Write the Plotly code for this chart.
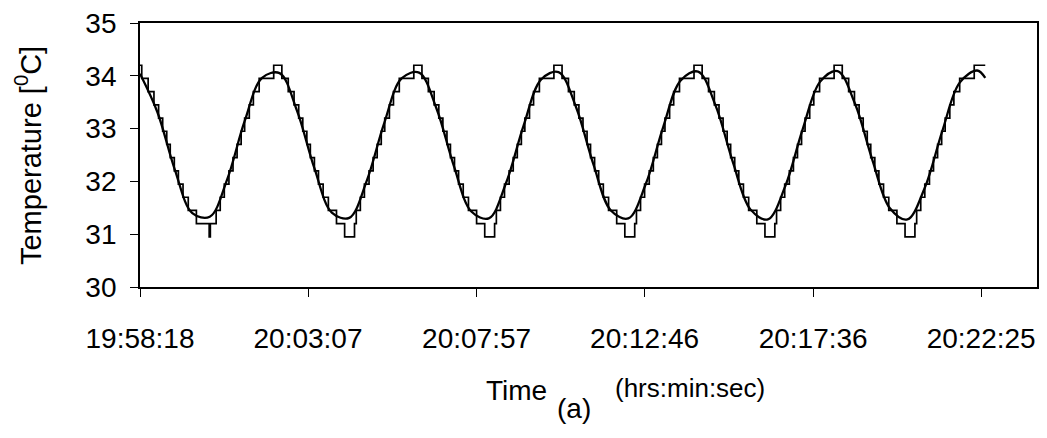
import plotly.graph_objects as go

# ---- data (seconds from 19:58:18) ----
tick_secs = [0, 289, 579, 868, 1158, 1447]
tick_labels = ["19:58:18", "20:03:07", "20:07:57", "20:12:46", "20:17:36", "20:22:25"]
y_ticks = [30, 31, 32, 33, 34, 35]

# smooth (fitted) temperature curve
fit_t = [0, 30, 60, 90, 120, 150, 180, 210, 240, 270, 300, 330, 360, 390, 420, 450,
         480, 510, 540, 570, 600, 630, 660, 690, 720, 750, 780, 810, 840, 870, 900,
         930, 960, 990, 1020, 1050, 1080, 1110, 1140, 1170, 1200, 1230, 1260, 1290,
         1320, 1350, 1380, 1410, 1440, 1454]
fit_v = [34.04, 33.31, 32.22, 31.40, 31.33, 32.04, 33.14, 33.96, 34.05, 33.34, 32.25,
         31.41, 31.31, 32.01, 33.10, 33.95, 34.06, 33.38, 32.29, 31.43, 31.30, 31.98,
         33.06, 33.93, 34.07, 33.41, 32.32, 31.45, 31.30, 31.95, 33.03, 33.91, 34.08,
         33.44, 32.36, 31.47, 31.28, 31.91, 32.99, 33.89, 34.09, 33.47, 32.40, 31.49,
         31.28, 31.88, 32.95, 33.87, 34.10, 33.96]

# measured (quantised) temperature: times where the reading changes, and the reading
meas_t = [0, 3, 14, 24, 32, 39, 46, 52, 59, 66, 74, 83, 97, 119, 121, 131, 138, 145, 153, 160, 167, 174, 180, 188, 195, 205,
          230, 244, 255, 265, 273, 280, 287, 293, 300, 307, 315, 324, 338, 352, 369, 372, 379, 386, 394, 401, 408, 415, 421, 429, 436, 446,
          471, 485, 496, 506, 514, 521, 528, 534, 541, 548, 556, 565, 579, 593, 610, 613, 620, 627, 635, 642, 649, 656, 662, 670, 677, 687,
          712, 726, 737, 747, 755, 762, 769, 775, 782, 789, 797, 806, 820, 834, 851, 854, 861, 868, 876, 883, 890, 897, 903, 911, 918, 928,
          953, 967, 978, 988, 996, 1003, 1010, 1016, 1023, 1030, 1038, 1047, 1061, 1075, 1092, 1095, 1102, 1109, 1117, 1124, 1131, 1138, 1144, 1152, 1159, 1169,
          1194, 1208, 1219, 1229, 1237, 1244, 1251, 1257, 1264, 1271, 1279, 1288, 1302, 1316, 1333, 1336, 1343, 1350, 1358, 1365, 1372, 1379, 1385, 1393, 1400, 1410,
          1435, 1454]
meas_v = [34.2, 33.95, 33.7, 33.45, 33.2, 32.95, 32.7, 32.45, 32.2, 31.95, 31.7, 31.45, 31.2, 30.95, 31.2, 31.45, 31.7, 31.95, 32.2, 32.45, 32.7, 32.95, 33.2, 33.45, 33.7, 33.95,
          34.2, 33.95, 33.7, 33.45, 33.2, 32.95, 32.7, 32.45, 32.2, 31.95, 31.7, 31.45, 31.2, 30.95, 31.2, 31.45, 31.7, 31.95, 32.2, 32.45, 32.7, 32.95, 33.2, 33.45, 33.7, 33.95,
          34.2, 33.95, 33.7, 33.45, 33.2, 32.95, 32.7, 32.45, 32.2, 31.95, 31.7, 31.45, 31.2, 30.95, 31.2, 31.45, 31.7, 31.95, 32.2, 32.45, 32.7, 32.95, 33.2, 33.45, 33.7, 33.95,
          34.2, 33.95, 33.7, 33.45, 33.2, 32.95, 32.7, 32.45, 32.2, 31.95, 31.7, 31.45, 31.2, 30.95, 31.2, 31.45, 31.7, 31.95, 32.2, 32.45, 32.7, 32.95, 33.2, 33.45, 33.7, 33.95,
          34.2, 33.95, 33.7, 33.45, 33.2, 32.95, 32.7, 32.45, 32.2, 31.95, 31.7, 31.45, 31.2, 30.95, 31.2, 31.45, 31.7, 31.95, 32.2, 32.45, 32.7, 32.95, 33.2, 33.45, 33.7, 33.95,
          34.2, 33.95, 33.7, 33.45, 33.2, 32.95, 32.7, 32.45, 32.2, 31.95, 31.7, 31.45, 31.2, 30.95, 31.2, 31.45, 31.7, 31.95, 32.2, 32.45, 32.7, 32.95, 33.2, 33.45, 33.7, 33.95,
          34.2, 34.2]

font_main = "Liberation Sans, Arial, sans-serif"

fig = go.Figure()
fig.add_trace(go.Scatter(x=meas_t, y=meas_v, mode="lines",
                         line=dict(color="black", width=1.7, shape="hv"),
                         showlegend=False, hoverinfo="skip"))
fig.add_trace(go.Scatter(x=fit_t, y=fit_v, mode="lines",
                         line=dict(color="black", width=2.3, shape="spline"),
                         showlegend=False, hoverinfo="skip"))

fig.update_layout(
    width=1047, height=438,
    margin=dict(l=140, r=8, t=17, b=151),
    paper_bgcolor="white", plot_bgcolor="white",
    font=dict(family=font_main, size=27, color="black"),
    xaxis=dict(range=[0, 1543], tickvals=tick_secs, ticktext=tick_labels,
               showgrid=False, zeroline=False, showline=True, mirror=True,
               linecolor="black", linewidth=1.8, ticks="outside", ticklen=8,
               tickwidth=1.4, tickcolor="black", ticklabelstandoff=17,
               tickfont=dict(size=28)),
    yaxis=dict(range=[30, 35], tickvals=y_ticks,
               showgrid=False, zeroline=False, showline=True, mirror=True,
               linecolor="black", linewidth=1.8, ticks="outside", ticklen=8,
               tickwidth=1.4, tickcolor="black", ticklabelstandoff=8,
               tickfont=dict(size=28)),
    annotations=[
        dict(text="Temperature [<sup>0</sup>C]", xref="paper", yref="paper",
             x=-0.1246, y=0.497, textangle=-90, showarrow=False,
             xanchor="center", yanchor="middle", font=dict(size=29)),
        dict(text="Time", xref="paper", yref="paper", x=0.4194, y=-0.3926,
             showarrow=False, xanchor="center", yanchor="middle", font=dict(size=28)),
        dict(text="(hrs:min:sec)", xref="paper", yref="paper", x=0.613, y=-0.381,
             showarrow=False, xanchor="center", yanchor="middle", font=dict(size=26)),
        dict(text="(a)", xref="paper", yref="paper", x=0.4839, y=-0.459,
             showarrow=False, xanchor="center", yanchor="middle", font=dict(size=28)),
    ],
)

fig.write_html("out.html")
